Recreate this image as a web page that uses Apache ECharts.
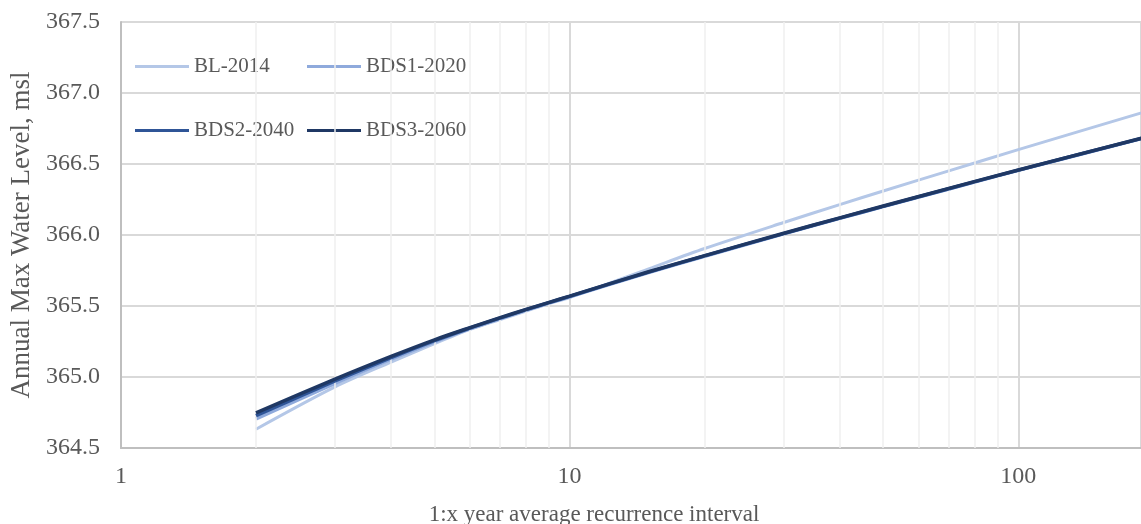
<!DOCTYPE html>
<html>
<head>
<meta charset="utf-8">
<script src="https://cdn.jsdelivr.net/npm/echarts@6/dist/echarts.min.js"></script>
<style>
html,body{margin:0;padding:0;background:#fff;}
#chart{width:1141px;height:524px;}
</style>
</head>
<body>
<div id="chart"></div>
<script>
// Recurrence interval (years)
const intervals = [2, 3, 4, 5, 6, 7, 8, 9, 10, 15, 20, 30, 40, 50, 70, 100, 200];
// Annual max water level (msl)
const bl2014   = [364.632, 364.930, 365.105, 365.235, 365.335, 365.405, 365.465, 365.518, 365.560, 365.762, 365.905, 366.088, 366.214, 366.310, 366.452, 366.601, 366.885];
const bds12020 = [364.705, 364.955, 365.125, 365.248, 365.340, 365.412, 365.471, 365.522, 365.565, 365.736, 365.850, 366.008, 366.117, 366.200, 366.324, 366.455, 366.700];
const bds22040 = [364.728, 364.972, 365.137, 365.256, 365.345, 365.415, 365.474, 365.524, 365.568, 365.739, 365.853, 366.010, 366.119, 366.202, 366.326, 366.457, 366.702];
const bds32060 = [364.748, 364.985, 365.145, 365.262, 365.348, 365.418, 365.476, 365.526, 365.570, 365.741, 365.855, 366.012, 366.121, 366.204, 366.328, 366.458, 366.703];
const seriesNames = ['BL-2014', 'BDS1-2020', 'BDS2-2040', 'BDS3-2060'];
const seriesColors = ['#b4c7e7', '#8faadc', '#2f5597', '#1f3864'];
const seriesWidths = [3, 3.5, 3.5, 3.5];
// minor log gridline positions
const minorTicks = [2, 3, 4, 5, 6, 7, 8, 9, 20, 30, 40, 50, 60, 70, 80, 90];

const FONT = '"Liberation Serif", "Times New Roman", serif';
const TXT = '#595959';
const allData = [bl2014, bds12020, bds22040, bds32060];

const chart = echarts.init(document.getElementById('chart'), null, {renderer: 'canvas'});

const series = [{
  type: 'line',
  name: '_minor',
  data: [],
  silent: true,
  z: 1,
  markLine: {
    silent: true,
    symbol: ['none', 'none'],
    label: {show: false},
    lineStyle: {color: '#efefef', width: 1.5, type: 'solid'},
    animation: false,
    data: minorTicks.map(v => ({xAxis: v}))
  }
}];
allData.forEach((arr, i) => {
  series.push({
    type: 'line',
    name: seriesNames[i],
    data: intervals.map((x, j) => [x, arr[j]]),
    smooth: 0.3,
    symbol: 'none',
    z: 3 + i,
    lineStyle: {color: seriesColors[i], width: seriesWidths[i]},
    itemStyle: {color: seriesColors[i]}
  });
});

const legendPos = [[135, 56], [307, 56], [135, 120], [307, 120]];
const legends = seriesNames.map((n, i) => ({
  data: [n],
  left: legendPos[i][0],
  top: legendPos[i][1],
  padding: 0,
  icon: 'rect',
  itemWidth: 54,
  itemHeight: 3,
  selectedMode: false,
  textStyle: {fontFamily: FONT, fontSize: 21, color: TXT}
}));

chart.setOption({
  animation: false,
  backgroundColor: '#ffffff',
  title: {
    text: '1:x year average recurrence interval',
    left: 594,
    top: 503,
    textAlign: 'center',
    padding: 0,
    textStyle: {fontFamily: FONT, fontSize: 23, fontWeight: 'normal', color: TXT}
  },
  legend: legends,
  grid: {left: 118, top: 22, bottom: 76, right: 0, containLabel: false},
  xAxis: {
    type: 'log',
    logBase: 10,
    min: 1,
    max: 187.7,
    axisLine: {show: true, lineStyle: {color: '#bfbfbf', width: 2}},
    axisTick: {show: false},
    axisLabel: {fontFamily: FONT, fontSize: 24, color: TXT, margin: 17, showMaxLabel: false},
    splitLine: {show: true, lineStyle: {color: '#d9d9d9', width: 2}}
  },
  yAxis: {
    type: 'value',
    min: 364.5,
    max: 367.5,
    interval: 0.5,
    name: 'Annual Max Water Level, msl',
    nameLocation: 'middle',
    nameGap: 83,
    nameTextStyle: {fontFamily: FONT, fontSize: 27, color: TXT},
    axisLine: {show: true, lineStyle: {color: '#bfbfbf', width: 2}},
    axisTick: {show: false},
    axisLabel: {fontFamily: FONT, fontSize: 24, color: TXT, margin: 21, formatter: v => v.toFixed(1)},
    splitLine: {show: true, lineStyle: {color: '#d9d9d9', width: 2}}
  },
  series: series
});
</script>
</body>
</html>
